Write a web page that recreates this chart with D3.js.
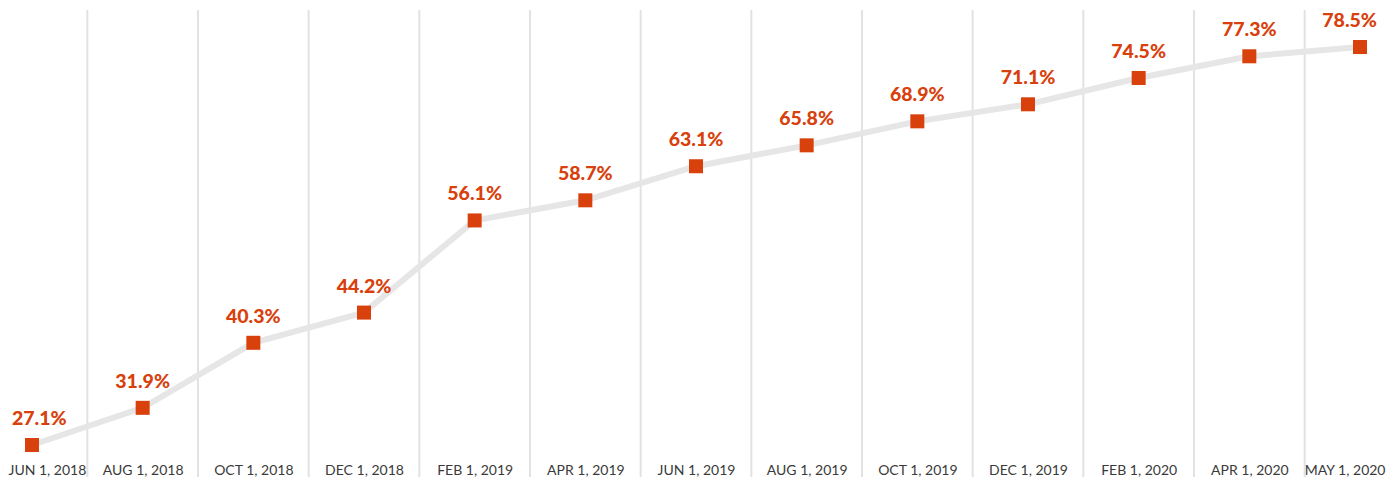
<!DOCTYPE html>
<html>
<head>
<meta charset="utf-8">
<script src="https://cdn.jsdelivr.net/npm/d3@7"></script>
<style>
  html, body { margin: 0; padding: 0; background: #fff; }
  svg { display: block; }
</style>
</head>
<body>
<div id="chart"></div>
<script>
// chart data
const dates = ['JUN 1, 2018', 'AUG 1, 2018', 'OCT 1, 2018', 'DEC 1, 2018', 'FEB 1, 2019', 'APR 1, 2019',
  'JUN 1, 2019', 'AUG 1, 2019', 'OCT 1, 2019', 'DEC 1, 2019', 'FEB 1, 2020', 'APR 1, 2020', 'MAY 1, 2020'];
const shares = [27.1, 31.9, 40.3, 44.2, 56.1, 58.7, 63.1, 65.8, 68.9, 71.1, 74.5, 77.3, 78.5];

const dimensions = {
  width: 1390,
  height: 477,
  margin: { top: 47, bottom: 32, left: 32, right: 30 }
};
const accent = '#d8400c';

const svg = d3.select('#chart')
  .append('svg')
  .attr('width', dimensions.width)
  .attr('height', dimensions.height);

const xScale = d3.scalePoint()
  .domain(dates)
  .range([dimensions.margin.left, dimensions.width - dimensions.margin.right]);

const yScale = d3.scaleLinear()
  .domain(d3.extent(shares))
  .range([dimensions.height - dimensions.margin.bottom, dimensions.margin.top]);

// vertical separators halfway between the dates
const step = xScale.step();
svg.append('g')
  .selectAll('line')
  .data(dates.slice(1))
  .join('line')
  .attr('x1', d => xScale(d) - step / 2)
  .attr('x2', d => xScale(d) - step / 2)
  .attr('y1', 10)
  .attr('y2', dimensions.height)
  .attr('stroke', '#e2e2e2')
  .attr('stroke-width', 2);

// x axis labels, kept inside the frame
const xAxis = svg.append('g')
  .attr('transform', `translate(0,${dimensions.height - 2})`)
  .call(d3.axisBottom(xScale).tickSize(0).tickPadding(0));
xAxis.select('.domain').remove();
xAxis.selectAll('text')
  .attr('dy', 0)
  .attr('y', 0)
  .attr('fill', '#3a3a3a')
  .attr('font-family', 'Lato, sans-serif')
  .attr('font-size', '14px');
xAxis.selectAll('.tick').each(function () {
  const tick = d3.select(this);
  const text = tick.select('text');
  const w = text.node().getComputedTextLength();
  const cx = xScale(tick.datum());
  const left = Math.max(8, Math.min(cx - w / 2, dimensions.width - 5 - w));
  text.attr('x', left - cx + w / 2);
});

// line
const line = d3.line()
  .x((d, i) => xScale(dates[i]))
  .y(d => yScale(d));
svg.append('path')
  .datum(shares)
  .attr('d', line)
  .attr('fill', 'none')
  .attr('stroke', '#e6e6e6')
  .attr('stroke-width', 6);

// markers
const size = 14;
svg.append('g')
  .selectAll('rect')
  .data(shares)
  .join('rect')
  .attr('x', (d, i) => xScale(dates[i]) - size / 2)
  .attr('y', d => yScale(d) - size / 2)
  .attr('width', size)
  .attr('height', size)
  .attr('fill', accent);

// value labels
const labels = svg.append('g')
  .selectAll('text')
  .data(shares)
  .join('text')
  .text(d => d.toFixed(1) + '%')
  .attr('y', d => yScale(d) - 20)
  .attr('fill', accent)
  .attr('font-family', 'Lato, sans-serif')
  .attr('font-weight', 900)
  .attr('font-size', '19.5px')
  .attr('text-anchor', 'middle');
labels.each(function (d, i) {
  const w = this.getComputedTextLength();
  const cx = xScale(dates[i]);
  const left = Math.max(12, Math.min(cx - w / 2, dimensions.width - 13 - w));
  d3.select(this).attr('x', left + w / 2);
});
</script>
</body>
</html>
